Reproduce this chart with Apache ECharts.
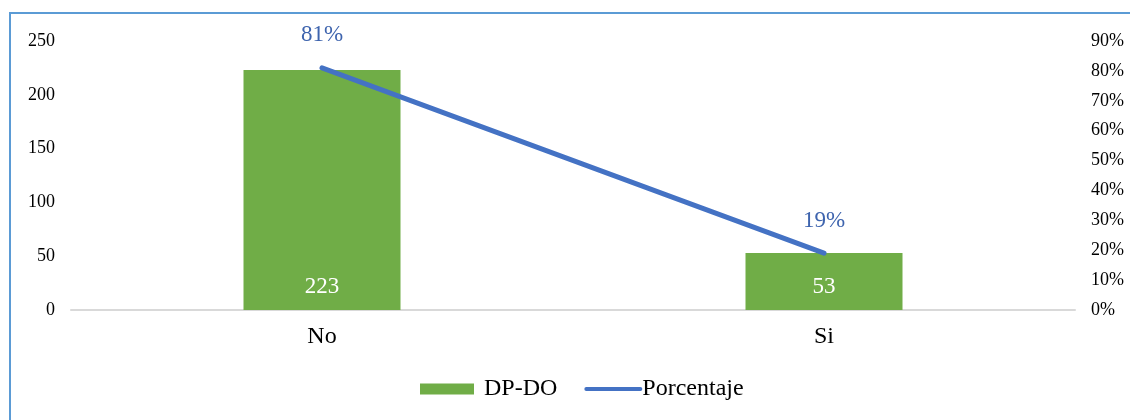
<!DOCTYPE html>
<html>
<head>
<meta charset="utf-8">
<script src="https://cdn.jsdelivr.net/npm/echarts@6/dist/echarts.min.js"></script>
<style>
  html, body { margin: 0; padding: 0; background: #fff; }
  #chart { width: 1130px; height: 420px; }
</style>
</head>
<body>
<div id="chart"></div>
<script>
// datos
const categorias = ['No', 'Si']
const dpdo = [223, 53]
const porcentaje = [0.81, 0.19]

const fuente = '"Liberation Serif", "Times New Roman", serif'

const chart = echarts.init(document.getElementById('chart'))

const option = {
  backgroundColor: '#fff',
  animation: false,
  textStyle: { fontFamily: fuente },
  // marco del gráfico
  graphic: [
    {
      type: 'rect',
      shape: { x: 10, y: 13, width: 1300, height: 600 },
      style: { fill: 'transparent', stroke: '#5B9BD5', lineWidth: 2 },
      silent: true
    }
  ],
  grid: { left: 71, right: 55, top: 41, bottom: 110 },
  legend: {
    left: 420,
    top: 377,
    padding: 0,
    itemGap: 27,
    itemWidth: 54,
    itemHeight: 11,
    textStyle: { fontFamily: fuente, fontSize: 24, color: '#000' },
    data: [
      { name: 'DP-DO', icon: 'rect', textStyle: { padding: [0, 0, 0, 5] } },
      {
        name: 'Porcentaje',
        itemStyle: { opacity: 0 },
        lineStyle: { width: 4, cap: 'round' },
        textStyle: { padding: [0, 0, 0, -3] }
      }
    ]
  },
  xAxis: {
    type: 'category',
    data: categorias,
    axisLine: { lineStyle: { color: '#D9D9D9', width: 2 } },
    axisTick: { show: false },
    axisLabel: { fontFamily: fuente, fontSize: 24, color: '#000', margin: 15 }
  },
  yAxis: [
    {
      type: 'value',
      min: 0,
      max: 250,
      interval: 50,
      splitLine: { show: false },
      axisLine: { show: false },
      axisTick: { show: false },
      axisLabel: { fontFamily: fuente, fontSize: 18, color: '#000', margin: 16 }
    },
    {
      type: 'value',
      min: 0,
      max: 0.9,
      interval: 0.1,
      splitLine: { show: false },
      axisLine: { show: false },
      axisTick: { show: false },
      axisLabel: {
        fontFamily: fuente,
        fontSize: 18,
        color: '#000',
        margin: 16,
        formatter: v => Math.round(v * 100) + '%'
      }
    }
  ],
  series: [
    {
      name: 'DP-DO',
      type: 'bar',
      data: dpdo,
      barWidth: 157,
      itemStyle: { color: '#70AD47' },
      label: {
        show: true,
        position: 'insideBottom',
        distance: 12,
        color: '#fff',
        fontFamily: fuente,
        fontSize: 23
      }
    },
    {
      name: 'Porcentaje',
      type: 'line',
      yAxisIndex: 1,
      data: porcentaje,
      symbol: 'circle',
      symbolSize: 0,
      lineStyle: { color: '#4472C4', width: 5, cap: 'round' },
      itemStyle: { color: '#4472C4' },
      label: {
        show: true,
        position: 'top',
        distance: 21,
        color: '#3E64AE',
        fontFamily: fuente,
        fontSize: 23,
        formatter: p => Math.round(p.value * 100) + '%'
      }
    }
  ]
}

chart.setOption(option)
</script>
</body>
</html>
